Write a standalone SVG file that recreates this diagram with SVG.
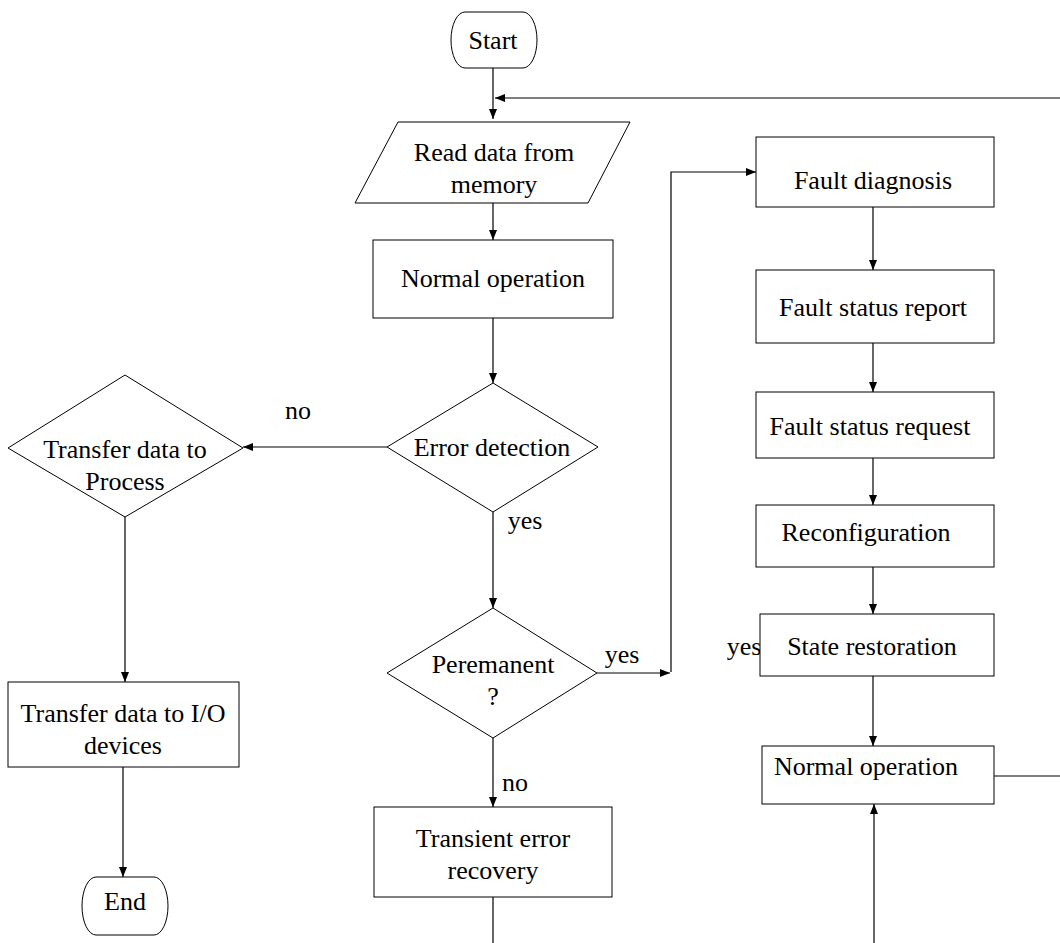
<svg xmlns="http://www.w3.org/2000/svg" width="1060" height="943" viewBox="0 0 1060 943">
<defs>
<marker id="ah" markerWidth="10" markerHeight="8" refX="10" refY="4" orient="auto" markerUnits="userSpaceOnUse">
<path d="M0,0 L10,4 L0,8 Z" fill="#000"/>
</marker>
<style>
.s{fill:#fff;stroke:#000;stroke-width:1}
.c{fill:none;stroke:#000;stroke-width:1.2}
.a{fill:none;stroke:#000;stroke-width:1.2;marker-end:url(#ah)}
text{font-family:"Liberation Serif","Times New Roman",serif;font-size:26px;fill:#000;text-anchor:middle}
</style>
</defs>
<rect width="1060" height="943" fill="#fff"/>
<g id="connectors">
<path class="a" d="M493,68 V119"/>
<path class="a" d="M1060,98 H495"/>
<path class="a" d="M493,203 V240"/>
<path class="a" d="M493,318 V383"/>
<path class="a" d="M387,447 H243"/>
<path class="a" d="M125,517 V682"/>
<path class="a" d="M123,767 V877"/>
<path class="a" d="M493,512 V608"/>
<path class="a" d="M597,673 H670"/>
<path class="a" d="M671,672 V172 H756"/>
<path class="a" d="M493,738 V807"/>
<path class="c" d="M493,897 V943"/>
<path class="a" d="M873,207 V270"/>
<path class="a" d="M873,343 V392"/>
<path class="a" d="M873,458 V505"/>
<path class="a" d="M873,567 V614"/>
<path class="a" d="M873,676 V746"/>
<path class="c" d="M994,776 H1060"/>
<path class="a" d="M874,943 V804"/>
<text x="298" y="419">no</text>
<text x="525" y="529">yes</text>
<text x="622" y="663">yes</text>
<text x="744" y="655">yes</text>
<text x="515" y="791">no</text>
</g>
<g id="start">
<path class="s" d="M465,12 H523 A14,28 0 0 1 523,68 H465 A14,28 0 0 1 465,12 Z"/>
<text x="493" y="49">Start</text>
</g>
<g id="read">
<polygon class="s" points="398,122 630,122 588,203 355,203"/>
<text x="494" y="161">Read data from</text>
<text x="494" y="193">memory</text>
</g>
<g id="normal1">
<rect class="s" x="373" y="240" width="240" height="78"/>
<text x="493" y="287">Normal operation</text>
</g>
<g id="error">
<polygon class="s" points="493,383 598,447 493,512 387,447"/>
<text x="492" y="456">Error detection</text>
</g>
<g id="transferProcess">
<polygon class="s" points="125,375 243,448 125,517 8,448"/>
<text x="125" y="458">Transfer data to</text>
<text x="125" y="490">Process</text>
</g>
<g id="transferIO">
<rect class="s" x="8" y="682" width="231" height="85"/>
<text x="123" y="722">Transfer data to I/O</text>
<text x="123" y="754">devices</text>
</g>
<g id="end">
<path class="s" d="M96,877 H154 A14,29 0 0 1 154,935 H96 A14,29 0 0 1 96,877 Z"/>
<text x="125" y="910">End</text>
</g>
<g id="permanent">
<polygon class="s" points="493,608 597,673 493,738 387,673"/>
<text x="493" y="673">Peremanent</text>
<text x="493" y="705">?</text>
</g>
<g id="transient">
<rect class="s" x="374" y="807" width="238" height="90"/>
<text x="493" y="847">Transient error</text>
<text x="493" y="879">recovery</text>
</g>
<g id="diagnosis">
<rect class="s" x="756" y="137" width="238" height="70"/>
<text x="873" y="189">Fault diagnosis</text>
</g>
<g id="report">
<rect class="s" x="756" y="270" width="238" height="73"/>
<text x="873" y="316">Fault status report</text>
</g>
<g id="request">
<rect class="s" x="756" y="392" width="238" height="66"/>
<text x="870" y="435">Fault status request</text>
</g>
<g id="reconfig">
<rect class="s" x="756" y="505" width="238" height="62"/>
<text x="866" y="541">Reconfiguration</text>
</g>
<g id="restore">
<rect class="s" x="760" y="614" width="234" height="62"/>
<text x="872" y="655">State restoration</text>
</g>
<g id="normal2">
<rect class="s" x="762" y="746" width="232" height="58"/>
<text x="866" y="775">Normal operation</text>
</g>
</svg>
